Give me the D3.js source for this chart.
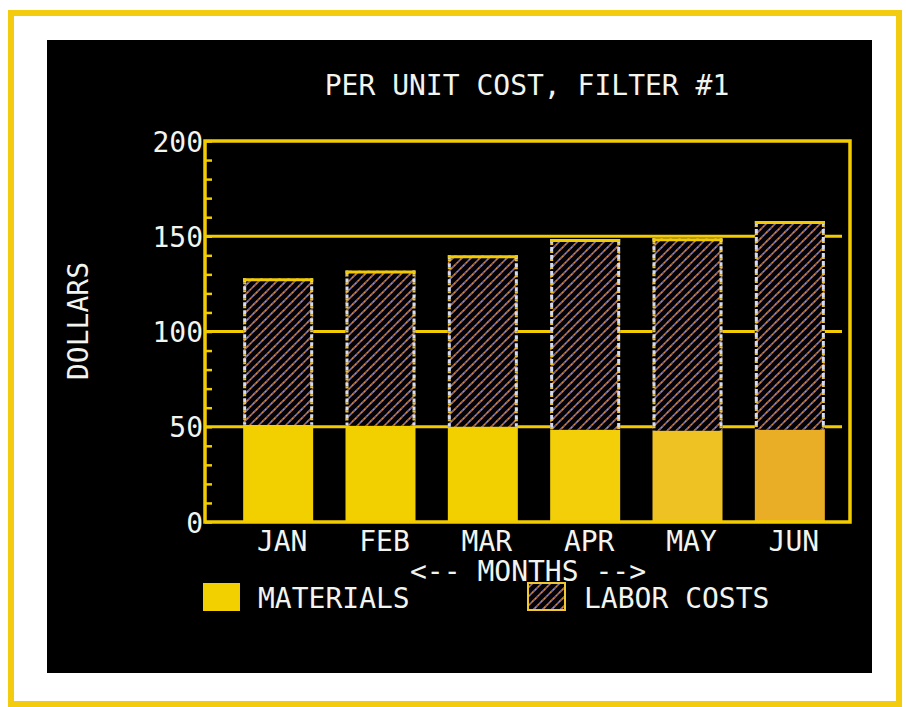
<!DOCTYPE html>
<html>
<head>
<meta charset="utf-8">
<script src="https://cdn.jsdelivr.net/npm/d3@7"></script>
<style>
  html, body { margin: 0; padding: 0; background: #ffffff; }
  svg { display: block; }
</style>
</head>
<body>
<svg id="chart" width="906" height="707"></svg>
<script>
// ---- data ----
const months = ["JAN", "FEB", "MAR", "APR", "MAY", "JUN"];
const materials = [51, 50.5, 50, 48.5, 48, 48.5];
const labor = [77, 81.5, 90, 100, 101, 109.5];
const yTicks = [0, 50, 100, 150, 200];
const seriesNames = ["MATERIALS", "LABOR COSTS"];
const title = "PER UNIT COST, FILTER #1";
const yTitle = "DOLLARS";
const xTitle = "<-- MONTHS -->";

// ---- styling ----
const YEL = "#f2cc00";
const matColors = ["#f2d000", "#f2d000", "#f2d000", "#f2cf08", "#efc224", "#eaae26"];
const TXT = "#f2f4f0";
const FONT = "'DejaVu Sans Mono', 'Liberation Mono', monospace";

const svg = d3.select("#chart");

// outer frame and black screen
svg.append("rect").attr("x", 0).attr("y", 0).attr("width", 906).attr("height", 707).attr("fill", "#fff");
svg.append("rect").attr("x", 11).attr("y", 13).attr("width", 888).attr("height", 691)
  .attr("fill", "#fff").attr("stroke", "#f3cc10").attr("stroke-width", 6);
svg.append("rect").attr("x", 47).attr("y", 40).attr("width", 825).attr("height", 633).attr("fill", "#000");

// pattern for labor
const defs = svg.append("defs");
const pat = defs.append("pattern").attr("id", "hatch").attr("patternUnits", "userSpaceOnUse")
  .attr("width", 9).attr("height", 9);
pat.append("rect").attr("width", 9).attr("height", 9).attr("fill", "#030206");
pat.append("path").attr("d", "M-2,11 L11,-2 M-2,2 L2,-2 M7,11 L11,7")
  .attr("stroke", "#d8843a").attr("stroke-width", 1.7).attr("stroke-dasharray", "2.5,1.5");
pat.append("path").attr("d", "M-2,11 L11,-2 M-2,2 L2,-2 M7,11 L11,7")
  .attr("stroke", "#8a78c0").attr("stroke-width", 1.7).attr("stroke-dasharray", "1.5,2.5")
  .attr("stroke-dashoffset", -2.5);

const pLeft = 205, pRight = 850, pTop = 141, pBottom = 522;
const y = d3.scaleLinear().domain([0, 200]).range([pBottom, pTop]);
const x = d3.scaleBand().domain(months).range([227, 841]).paddingInner(0.316).paddingOuter(0.158);

// gridlines
const g = svg.append("g");
g.selectAll("line.grid").data(yTicks.filter(d => d > 0 && d < 200)).join("line")
  .attr("x1", pLeft).attr("x2", 842).attr("y1", d => y(d)).attr("y2", d => y(d))
  .attr("stroke", YEL).attr("stroke-width", 3);

// bars
const stackData = months.map((m, i) => ({ month: m, materials: materials[i], labor: labor[i], i }));
const stack = d3.stack().keys(["materials", "labor"])(stackData);

g.selectAll("rect.mat").data(stack[0]).join("rect")
  .attr("x", d => x(d.data.month)).attr("width", x.bandwidth())
  .attr("y", d => y(d[1])).attr("height", d => y(d[0]) - y(d[1]))
  .attr("fill", d => matColors[d.data.i]);

g.selectAll("rect.lab").data(stack[1]).join("rect")
  .attr("x", d => x(d.data.month)).attr("width", x.bandwidth())
  .attr("y", d => y(d[1])).attr("height", d => y(d[0]) - y(d[1]))
  .attr("fill", "url(#hatch)");

// dotted side edges of labor bars
stack[1].forEach(d => {
  const x0 = x(d.data.month), x1 = x0 + x.bandwidth();
  [x0 + 1.5, x1 - 1.5].forEach(xx => {
    g.append("line").attr("x1", xx).attr("x2", xx).attr("y1", y(d[1])).attr("y2", y(d[0]))
      .attr("stroke", "#d4dcf4").attr("stroke-width", 3).attr("stroke-dasharray", "4,4");
    g.append("line").attr("x1", xx).attr("x2", xx).attr("y1", y(d[1]) + 4).attr("y2", y(d[0]))
      .attr("stroke", "#f0c830").attr("stroke-width", 3).attr("stroke-dasharray", "2,6");
  });
  g.append("line").attr("x1", x0).attr("x2", x1).attr("y1", y(d[1]) + 1.5).attr("y2", y(d[1]) + 1.5)
    .attr("stroke", YEL).attr("stroke-width", 3);
});

// frame
const frame = svg.append("g").attr("fill", "none").attr("stroke", YEL).attr("stroke-width", 3.5);
frame.append("path").attr("d", `M${pLeft},${pTop} L${pRight},${pTop} L${pRight},${pBottom} L${pLeft},${pBottom} Z`);

// minor ticks (inward)
const minorAxis = d3.axisRight(y).tickValues(d3.range(0, 201, 10)).tickSize(7).tickFormat("");
const ma = svg.append("g").attr("transform", `translate(${pLeft},0)`).call(minorAxis);
ma.select(".domain").remove();
ma.selectAll(".tick line").attr("stroke", YEL).attr("stroke-width", 2.5);

// y labels
const yAxis = d3.axisLeft(y).tickValues(yTicks).tickSize(0).tickPadding(2).tickFormat(d3.format("d"));
const ya = svg.append("g").attr("transform", `translate(${pLeft},0)`).call(yAxis);
ya.select(".domain").remove();
ya.selectAll("text").attr("fill", TXT).attr("font-family", FONT).attr("font-size", 28)
  .attr("dy", "0.36em");

// x labels
const xAxis = d3.axisBottom(x).tickSize(0).tickPadding(0);
const xa = svg.append("g").attr("transform", `translate(4,${pBottom})`).call(xAxis);
xa.select(".domain").remove();
xa.selectAll("text").attr("fill", TXT).attr("font-family", FONT).attr("font-size", 28)
  .attr("dy", null).attr("y", 29);

// titles
const T = svg.append("g").attr("fill", TXT).attr("font-family", FONT).attr("font-size", 28);
T.append("text").attr("x", 527).attr("y", 95).attr("text-anchor", "middle").text(title);
T.append("text").attr("x", 528).attr("y", 581).attr("text-anchor", "middle").text(xTitle);
T.append("text").attr("transform", "translate(88,321) rotate(-90)").attr("text-anchor", "middle").text(yTitle);

// legend
const legX = [203, 528];
svg.append("rect").attr("x", legX[0]).attr("y", 583).attr("width", 37).attr("height", 28).attr("fill", "#f2d000");
svg.append("rect").attr("x", legX[1]).attr("y", 583).attr("width", 37).attr("height", 27)
  .attr("fill", "url(#hatch)").attr("stroke", "#f0c830").attr("stroke-width", 2);
T.append("text").attr("x", 258).attr("y", 608).text(seriesNames[0]);
T.append("text").attr("x", 584).attr("y", 608).text(seriesNames[1]);
</script>
</body>
</html>
